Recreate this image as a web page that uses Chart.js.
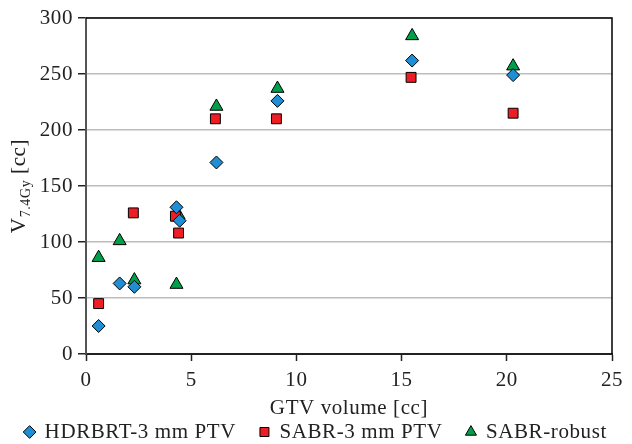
<!DOCTYPE html>
<html>
<head>
<meta charset="utf-8">
<script src="https://cdn.jsdelivr.net/npm/chart.js@4.4.1/dist/chart.umd.min.js"></script>
<style>
  html, body { margin: 0; padding: 0; background: #fff; }
  #wrap { width: 632px; height: 444px; }
</style>
</head>
<body>
<div id="wrap"><canvas id="chart" width="632" height="444"></canvas></div>
<script>
// GTV volume [cc] and V7.4Gy [cc]
const hdrX = [0.6, 1.6, 2.3, 4.3, 4.45, 6.2, 9.1, 15.5, 20.3];
const hdrY = [25, 63, 60, 131, 119, 171, 226, 262, 249];

const sabrX = [0.6, 2.25, 4.25, 4.4, 6.15, 9.05, 15.45, 20.3];
const sabrY = [45, 126, 123, 108, 210, 210, 247, 215];

const robustX = [0.6, 1.6, 2.3, 4.3, 4.4, 6.2, 9.1, 15.5, 20.3];
const robustY = [86, 101, 66, 62, 124, 221, 237, 284, 257];

const seriesNames = ['HDRBRT-3 mm PTV', 'SABR-3 mm PTV', 'SABR-robust'];

const FONT = "'Liberation Serif', 'Times New Roman', serif";
const FSIZE = 21;
const SPACING = '0.6px'; // widen the Times-like face a bit towards the original

function toPoints(xs, ys) {
  return xs.map((x, i) => ({ x: x, y: ys[i] }));
}

// letter spacing has to be set before measuring (layout) and before drawing
const spacingPlugin = {
  id: 'spacing',
  beforeLayout(chart) { chart.ctx.letterSpacing = SPACING; },
  beforeDraw(chart) { chart.ctx.letterSpacing = SPACING; }
};

// y axis title with subscript: V_{7.4Gy} [cc]
const yTitlePlugin = {
  id: 'yTitle',
  afterDraw(chart) {
    const ctx = chart.ctx;
    const area = chart.chartArea;
    const big = FSIZE + 'px ' + FONT;
    const small = '14px ' + FONT;
    ctx.save();
    ctx.font = big;
    const wV = ctx.measureText('V').width;
    const wCc = ctx.measureText(' [cc]').width;
    ctx.font = small;
    const wSub = ctx.measureText('7.4Gy').width;
    const total = wV + wSub + wCc;
    const cy = (area.top + area.bottom) / 2;
    ctx.translate(25, cy + total / 2);
    ctx.rotate(-Math.PI / 2);
    ctx.fillStyle = '#222';
    ctx.textBaseline = 'alphabetic';
    ctx.textAlign = 'left';
    ctx.font = big;
    ctx.fillText('V', 0, 0);
    ctx.font = small;
    ctx.fillText('7.4Gy', wV, 5);
    ctx.font = big;
    ctx.fillText(' [cc]', wV + wSub, 0);
    ctx.restore();
  }
};

// black frame on top and right of the plot area
const framePlugin = {
  id: 'frame',
  beforeDatasetsDraw(chart) {
    const ctx = chart.ctx;
    const a = chart.chartArea;
    ctx.save();
    ctx.strokeStyle = '#000';
    ctx.lineWidth = 1.5;
    ctx.beginPath();
    ctx.moveTo(a.left, a.top);
    ctx.lineTo(a.right, a.top);
    ctx.lineTo(a.right, a.bottom);
    ctx.stroke();
    ctx.restore();
  }
};

const ctx = document.getElementById('chart').getContext('2d');
new Chart(ctx, {
  type: 'scatter',
  data: {
    datasets: [
      {
        label: seriesNames[0],
        data: toPoints(hdrX, hdrY),
        pointStyle: 'rectRot',
        pointRadius: 6.5,
        backgroundColor: '#1e8fd5',
        borderColor: '#000',
        borderWidth: 1
      },
      {
        label: seriesNames[1],
        data: toPoints(sabrX, sabrY),
        pointStyle: 'rect',
        pointRadius: 7,
        backgroundColor: '#ee1c25',
        borderColor: '#000',
        borderWidth: 1
      },
      {
        label: seriesNames[2],
        data: toPoints(robustX, robustY),
        pointStyle: 'triangle',
        pointRadius: 7.5,
        backgroundColor: '#00a04b',
        borderColor: '#000',
        borderWidth: 1
      }
    ]
  },
  options: {
    responsive: false,
    animation: false,
    layout: { padding: { top: 18, right: 0, left: 0, bottom: -8.5 } },
    scales: {
      x: {
        min: 0,
        max: 25,
        ticks: { stepSize: 5, color: '#222', font: { family: FONT, size: FSIZE }, padding: 7, maxRotation: 0 },
        grid: { drawOnChartArea: false, drawTicks: true, tickLength: 7, tickColor: '#222', tickWidth: 1.5 },
        border: { color: '#222', width: 2 },
        title: { display: true, text: 'GTV volume [cc]', color: '#222', font: { family: FONT, size: FSIZE }, padding: { top: 0, bottom: -24 } },
        afterFit(scale) { scale.height = 43.5; }
      },
      y: {
        min: 0,
        max: 300,
        ticks: { stepSize: 50, color: '#222', font: { family: FONT, size: FSIZE }, padding: 5 },
        grid: { color: '#bdbdbd', lineWidth: 1.5, drawTicks: true, tickLength: 8, tickColor: '#222', tickWidth: 1.5 },
        border: { color: '#555', width: 2 },
        afterFit(scale) { scale.width = 86; }
      },
      // empty right axis, only keeps the right margin of the plot
      yRight: {
        type: 'linear',
        position: 'right',
        ticks: { display: false },
        grid: { display: false },
        border: { display: false },
        afterFit(scale) { scale.width = 20; }
      }
    },
    plugins: {
      legend: {
        position: 'bottom',
        labels: {
          usePointStyle: true,
          boxWidth: 9,
          boxHeight: 9,
          padding: 24,
          color: '#222',
          font: { family: FONT, size: FSIZE }
        }
      },
      tooltip: { enabled: false }
    }
  },
  plugins: [spacingPlugin, yTitlePlugin, framePlugin]
});
</script>
</body>
</html>
